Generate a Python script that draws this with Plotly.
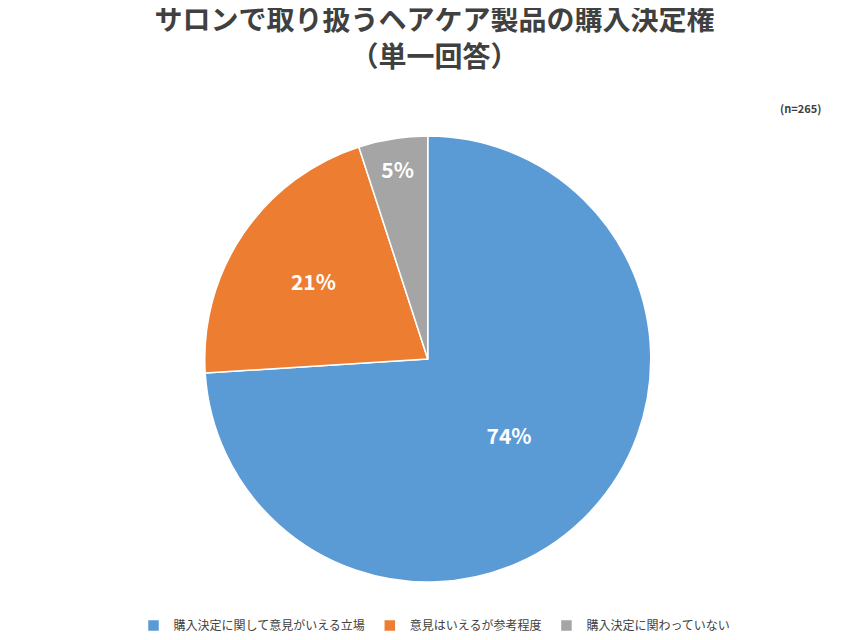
import plotly.graph_objects as go

labels = ["購入決定に関して意見がいえる立場", "意見はいえるが参考程度", "購入決定に関わっていない"]
values = [74, 21, 5]
colors = ["#5B9BD5", "#ED7D31", "#A5A5A5"]
title = "サロンで取り扱うヘアケア製品の購入決定権<br>（単一回答）"
note = "(n=265)"

fig = go.Figure(go.Pie(
    labels=labels, values=values, sort=False, direction="clockwise", rotation=0,
    marker=dict(colors=colors, line=dict(color="white", width=1.5)),
    texttemplate="<b>%{value}%</b>", textposition="inside", insidetextorientation="horizontal",
    textfont=dict(color="white", size=21, family="Noto Sans CJK JP"),
    domain=dict(x=[0.2306, 0.7536], y=[0.1031, 0.80]),
    hoverinfo="skip",
))
fig.update_layout(
    width=853, height=640, paper_bgcolor="white", plot_bgcolor="white",
    margin=dict(l=0, r=0, t=0, b=0),
    font=dict(family="Noto Sans CJK JP", color="#404040"),
    title=dict(text="<b>" + title + "</b>", x=0.5, xanchor="center", y=0.965, yanchor="top",
               font=dict(size=28, color="#404040")),
    legend=dict(orientation="h", x=0.5, xanchor="center", y=0.035, yanchor="middle",
                font=dict(size=12, color="#404040"), traceorder="normal"),
    annotations=[dict(text="<b>" + note + "</b>", x=0.955, y=0.843, xref="paper", yref="paper",
                      xanchor="right", yanchor="middle", showarrow=False,
                      font=dict(size=11, color="#404040"))],
)
fig.write_html("out.html")
